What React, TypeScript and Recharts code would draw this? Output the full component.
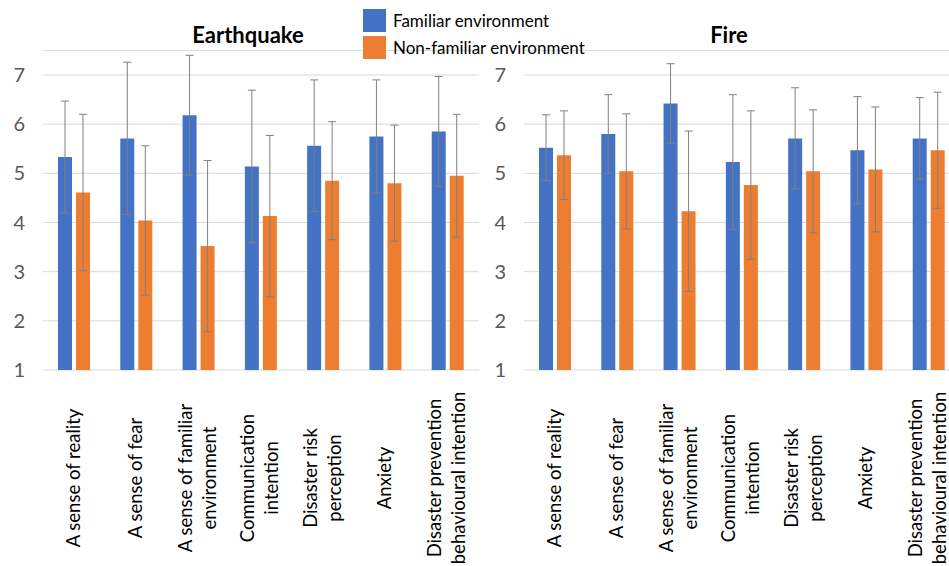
import { BarChart, Bar, XAxis, YAxis, CartesianGrid, ErrorBar } from "recharts";

const categories = [
  "A sense of reality",
  "A sense of fear",
  "A sense of familiar\nenvironment",
  "Communication\nintention",
  "Disaster risk\nperception",
  "Anxiety",
  "Disaster prevention\nbehavioural intention",
];

const quakeFamiliar = [5.33, 5.71, 6.18, 5.14, 5.56, 5.75, 5.85];
const quakeFamiliarSd = [1.14, 1.55, 1.22, 1.55, 1.34, 1.15, 1.12];
const quakeNonFamiliar = [4.61, 4.04, 3.52, 4.13, 4.85, 4.8, 4.95];
const quakeNonFamiliarSd = [1.59, 1.52, 1.74, 1.64, 1.2, 1.18, 1.25];

const fireFamiliar = [5.52, 5.8, 6.42, 5.23, 5.71, 5.47, 5.71];
const fireFamiliarSd = [0.67, 0.8, 0.81, 1.37, 1.03, 1.09, 0.83];
const fireNonFamiliar = [5.37, 5.04, 4.23, 4.76, 5.04, 5.08, 5.47];
const fireNonFamiliarSd = [0.9, 1.17, 1.63, 1.51, 1.25, 1.27, 1.18];

const yTicks = [1, 2, 3, 4, 5, 6, 7];
// headroom above 7 so the error bars fit without stretching the axis
const yDomain = [1, 7.5];

const BLUE = "#4472C4";
const ORANGE = "#ED7D31";
const FONT = "Lato, 'Liberation Sans', sans-serif";

const seriesNames = ["Familiar environment", "Non-familiar environment"];

function buildRows(fam: number[], famSd: number[], non: number[], nonSd: number[]) {
  return categories.map((name, i) => ({
    name,
    familiar: fam[i],
    familiarSd: famSd[i],
    nonFamiliar: non[i],
    nonFamiliarSd: nonSd[i],
  }));
}

const quakeRows = buildRows(quakeFamiliar, quakeFamiliarSd, quakeNonFamiliar, quakeNonFamiliarSd);
const fireRows = buildRows(fireFamiliar, fireFamiliarSd, fireNonFamiliar, fireNonFamiliarSd);

function CategoryTick(props: any) {
  const { x, y, payload } = props;
  const lines = String(payload.value).split("\n");
  const gap = 24;
  return (
    <g transform={`translate(${x},${y + 108}) rotate(-90)`}>
      <text textAnchor="middle" fontFamily={FONT} fontSize={18.5} fill="#000">
        {lines.map((l, i) => (
          <tspan key={i} x={0} y={(i - (lines.length - 1) / 2) * gap - 1} dy="0.35em">
            {l}
          </tspan>
        ))}
      </text>
    </g>
  );
}

function Panel({ rows, yWidth }: { rows: any[]; yWidth: number }) {
  return (
    <BarChart
      width={yWidth + 436}
      height={566}
      data={rows}
      margin={{ top: 50.4, right: 0, bottom: 0, left: 0 }}
      barSize={14}
      barGap={4}
      style={{ overflow: "visible" }}
    >
      <CartesianGrid vertical={false} stroke="#d9d9d9" />
      <XAxis
        dataKey="name"
        axisLine={false}
        tickLine={false}
        tickSize={0}
        tickMargin={0}
        height={196}
        interval={0}
        tick={<CategoryTick />}
      />
      <YAxis
        type="number"
        domain={yDomain}
        ticks={yTicks}
        width={yWidth}
        axisLine={false}
        tickLine={false}
        tickSize={0}
        tickMargin={18}
        tick={{ fill: "#595959", fontSize: 20, fontFamily: FONT }}
      />
      <Bar dataKey="familiar" fill={BLUE} isAnimationActive={false}>
        <ErrorBar dataKey="familiarSd" width={4} stroke="#808080" strokeWidth={1} />
      </Bar>
      <Bar dataKey="nonFamiliar" fill={ORANGE} isAnimationActive={false}>
        <ErrorBar dataKey="nonFamiliarSd" width={4} stroke="#808080" strokeWidth={1} />
      </Bar>
    </BarChart>
  );
}

export default function App() {
  const titleStyle: React.CSSProperties = {
    position: "absolute",
    top: 20,
    fontFamily: FONT,
    fontWeight: 700,
    fontSize: 22,
    lineHeight: "30px",
    transform: "translateX(-50%)",
    whiteSpace: "nowrap",
    color: "#000",
  };
  return (
    <div
      style={{
        position: "absolute",
        left: 0,
        top: 0,
        width: 949,
        height: 566,
        overflow: "hidden",
        background: "#fff",
      }}
    >
      <div style={{ position: "absolute", left: 0, top: 0 }}>
        <Panel rows={quakeRows} yWidth={43} />
      </div>
      <div style={{ position: "absolute", left: 480, top: 0 }}>
        <Panel rows={fireRows} yWidth={44} />
      </div>
      <div style={{ ...titleStyle, left: 248 }}>Earthquake</div>
      <div style={{ ...titleStyle, left: 729 }}>Fire</div>
      <div style={{ position: "absolute", left: 363, top: 9, fontFamily: FONT, fontSize: 17 }}>
        {seriesNames.map((n, i) => (
          <div key={n} style={{ display: "flex", alignItems: "center", height: 23, marginBottom: 4 }}>
            <div style={{ width: 23, height: 23, background: i === 0 ? BLUE : ORANGE }} />
            <span style={{ marginLeft: 7, color: "#000", whiteSpace: "nowrap" }}>{n}</span>
          </div>
        ))}
      </div>
    </div>
  );
}
